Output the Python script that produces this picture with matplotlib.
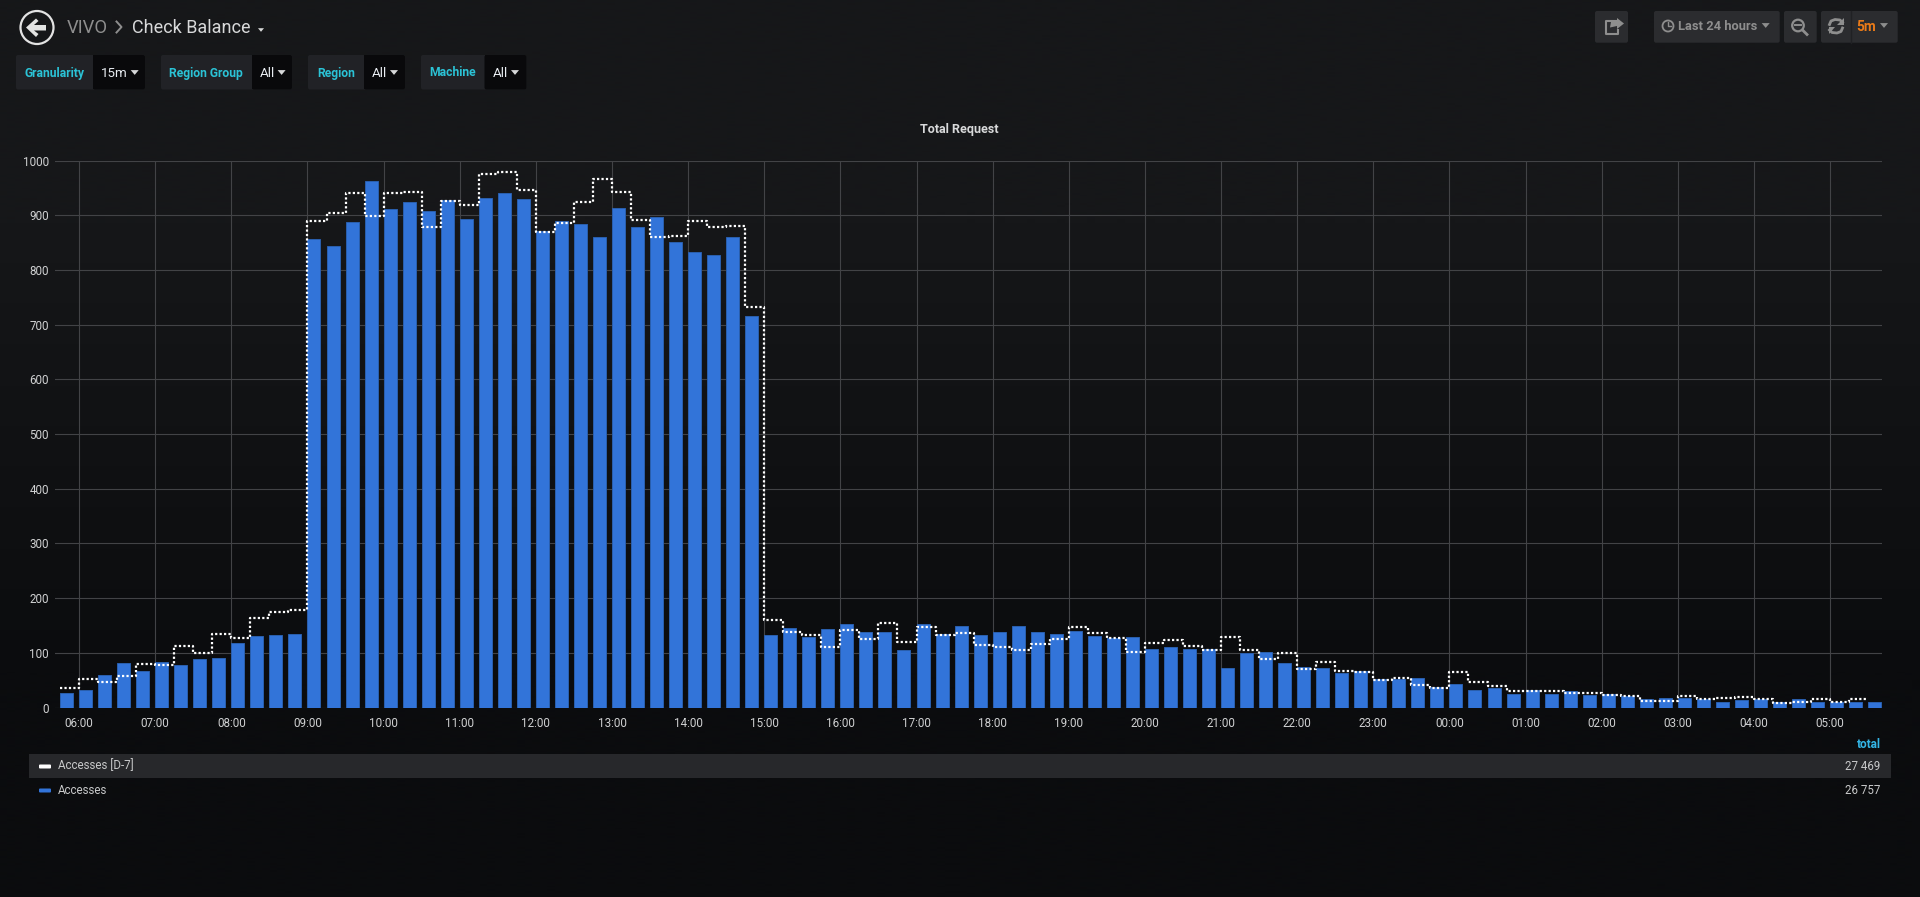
import numpy as np
import pandas as pd
import matplotlib
matplotlib.use('Agg')
import matplotlib.pyplot as plt
import matplotlib.dates as mdates
from matplotlib.patches import Rectangle, Circle, Polygon, FancyBboxPatch

plt.rcParams['font.family'] = ['Roboto', 'DejaVu Sans']

# 15 minute buckets, 05:45 -> 05:30 next day
times = pd.date_range('2019-01-01 05:45', periods=96, freq='15min')

accesses = [
    27, 33, 60, 82, 66, 84, 77, 88, 90, 119, 130, 132, 134,
    856, 843, 888, 963, 912, 925, 907, 928, 894, 932, 940, 929,
    872, 890, 885, 860, 914, 879, 896, 851, 833, 827, 860, 715,
    132, 146, 129, 143, 153, 139, 138, 105, 152, 135, 149, 132,
    139, 149, 138, 134, 140, 130, 127, 129, 108, 110, 108, 108,
    73, 100, 101, 82, 75, 72, 63,
    67, 52, 53, 55, 38, 44, 33, 35, 25, 32, 24, 30, 23, 24, 21,
    15, 17, 17, 15, 11, 13, 16, 10, 15, 10, 10, 11, 11,
]
accesses_d7 = [
    35, 52, 46, 57, 79, 78, 113, 100, 134, 128, 163, 175, 178,
    889, 905, 941, 899, 940, 943, 879, 926, 918, 976, 980, 947,
    869, 886, 925, 966, 942, 891, 861, 863, 890, 879, 880, 732,
    161, 138, 132, 111, 141, 125, 155, 120, 147, 132, 136, 114,
    111, 106, 116, 125, 148, 136, 127, 102, 119, 123, 112, 106,
    129, 105, 88, 100, 71, 84, 66,
    65, 51, 54, 41, 35, 65, 46, 40, 30, 30, 30, 26, 26, 23, 22,
    12, 12, 22, 15, 17, 20, 15, 8, 11, 15, 11, 15,
]
y_ticks = list(range(0, 1001, 100))
legend_names = ['Accesses [D-7]', 'Accesses']
legend_totals = ['27 469', '26 757']
filters = [('Granularity', '15m'), ('Region Group', 'All'), ('Region', 'All'), ('Machine', 'All')]

W, H = 1920, 897
fig = plt.figure(figsize=(W / 100, H / 100), dpi=100)

# page background gradient
bg = fig.add_axes([0, 0, 1, 1], zorder=0)
bg.imshow(np.array([[22, 23, 25], [11, 12, 14]])[:, None, :] / 255.0, aspect='auto',
          interpolation='bilinear', extent=[0, 1, 0, 1])
bg.axis('off')

# main chart
plot_l, plot_r, plot_t, plot_b = 55, 1882, 160.6, 707.6
ax = fig.add_axes([plot_l / W, 1 - plot_b / H, (plot_r - plot_l) / W, (plot_b - plot_t) / H], zorder=1)
ax.patch.set_alpha(0)

hour_px = 76.13
t0 = mdates.date2num(pd.Timestamp('2019-01-01 06:00'))
px_per_day = hour_px * 24
x_origin = 79.1
ax.set_xlim(t0 + (plot_l - x_origin) / px_per_day, t0 + (plot_r - x_origin) / px_per_day)
ax.set_ylim(0, 1000)

x = mdates.date2num(times)
bar_w = 13 / px_per_day
ax.bar(x, accesses, width=bar_w, align='edge', color='#3274d9', edgecolor='#2a5fae',
       linewidth=0.7, zorder=2)
ax.step(x[:96], accesses_d7 + accesses_d7[-1:], where='post', color='white', lw=1.6,
        linestyle=(0, (1, 1)), zorder=3)

ax.xaxis.set_major_locator(mdates.HourLocator())
ax.xaxis.set_major_formatter(mdates.DateFormatter('%H:%M'))
ax.set_yticks(y_ticks)
ax.grid(True, color='#424346', lw=0.8, zorder=1)
ax.set_axisbelow(True)
for s in ax.spines.values():
    s.set_visible(False)
ax.tick_params(axis='both', length=0, labelcolor='#d0d1d2', labelsize=8.4)
ax.tick_params(axis='x', pad=6.5)
ax.tick_params(axis='y', pad=4.5)

# everything else is drawn in pixel coords
ov = fig.add_axes([0, 0, 1, 1], zorder=2)
ov.set_xlim(0, W)
ov.set_ylim(H, 0)
ov.axis('off')


def box(x0, y0, x1, y1, color, rounded=True):
    if rounded:
        ov.add_patch(FancyBboxPatch((x0 + 2, y0 + 2), x1 - x0 - 4, y1 - y0 - 4, boxstyle='round,pad=2',
                                    fc=color, ec='none'))
    else:
        ov.add_patch(Rectangle((x0, y0), x1 - x0, y1 - y0, fc=color, ec='none'))


def caret(cx, cy, color, size=4):
    ov.add_patch(Polygon([[cx - size, cy - size * 0.6], [cx + size, cy - size * 0.6], [cx, cy + size * 0.6]],
                         fc=color, ec='none'))


# title
ov.text(959.5, 130, 'Total Request', color='#d8d9da', fontsize=9, fontweight='bold', ha='center', va='center')

# header left
ov.add_patch(Circle((37, 27.5), 16.5, fc='none', ec='#e3e3e3', lw=1.6))
ov.add_patch(Polygon([[26, 27.5], [36, 18.5], [38.5, 21], [34, 25], [46, 25], [46, 30.5], [34, 30.5],
                      [38.5, 34], [36, 37]], fc='#e3e3e3', ec='none'))
ov.text(67, 28, 'VIVO', color='#8e8e8e', fontsize=13.2, va='center')
ov.plot([116.5, 121.5, 116.5], [21.5, 27, 32.5], color='#8e8e8e', lw=1.4)
ov.text(132, 28, 'Check Balance', color='#d8d9da', fontsize=13, va='center')
caret(261, 30, '#d8d9da', 3)

# template variable row
filter_px = [(16, 93, 145, 54.5, 101, 134.7), (161, 252, 292, 206, 259.6, 281.6),
             (308, 364, 405, 336, 372, 394), (421, 484.5, 526.5, 452.4, 493, 515)]
for (name, val), (x0, x1, x2, tx, vx, cx) in zip(filters, filter_px):
    box(x0, 55, x2, 89.5, '#212226')
    box(x1, 55, x2, 89.5, '#09090b')
    ov.add_patch(Rectangle((x1, 55), 4, 34.5, fc='#09090b', ec='none'))
    ov.text(tx, 73, name, color='#2bc3d6', fontsize=8.7, fontweight='bold', ha='center', va='center')
    ov.text(vx, 73.8, val, color='#e9edf2', fontsize=9.6, va='center')
    caret(cx, 72.5, '#d8d9da', 4)

# header right buttons
btn = '#2b2c2f'
grey = '#8e8e8e'
box(1595, 11, 1628, 42.7, btn)
box(1654, 11, 1779.7, 42.7, btn)
box(1784, 11, 1816.7, 42.7, btn)
box(1821, 11, 1897.7, 42.7, btn)
ov.plot([1851, 1851], [11, 42.7], color='#202124', lw=1)

# share icon
ov.plot([1617, 1606, 1606, 1618, 1618], [21, 21, 34.5, 34.5, 30], color=grey, lw=1.5)
ov.add_patch(Polygon([[1617, 18], [1624, 23.5], [1617, 29], [1617, 26], [1610, 27.5], [1611, 22], [1617, 21]],
                     fc=grey, ec='none'))

# time picker
ov.add_patch(Circle((1668, 26), 5.5, fc='none', ec=grey, lw=1.3))
ov.plot([1668, 1668, 1671], [22.5, 26.5, 26.5], color=grey, lw=1)
ov.text(1677.5, 27, 'Last 24 hours', color=grey, fontsize=9.3, fontweight='bold', va='center')
caret(1765.7, 25.5, grey, 4)

# zoom out icon
ov.add_patch(Circle((1798, 25.5), 5.8, fc='none', ec=grey, lw=1.6))
ov.plot([1795, 1801], [25.5, 25.5], color=grey, lw=1.4)
ov.plot([1802.5, 1807], [30, 34.5], color=grey, lw=2)

# refresh icon
ov.plot([1829.5, 1831, 1835, 1840, 1842.5], [24.5, 21, 19.5, 20, 22.5], color=grey, lw=2)
ov.plot([1842.5, 1841, 1837, 1832, 1829.5], [28, 31.5, 33, 32.5, 30], color=grey, lw=2)
ov.add_patch(Polygon([[1843.5, 18], [1843.5, 25], [1837, 25]], fc=grey, ec='none'))
ov.add_patch(Polygon([[1828.5, 34.5], [1828.5, 27.5], [1835, 27.5]], fc=grey, ec='none'))

ov.text(1856.5, 27, '5m', color='#eb7b18', fontsize=9.8, fontweight='bold', va='center')
caret(1884, 25.5, grey, 4)

# legend table
ov.text(1880.6, 744, 'total', color='#33b5e5', fontsize=8.6, fontweight='bold', ha='right', va='center')
box(29, 754, 1891, 778, '#27282b', rounded=False)
legend_y = [766, 790]
for name, total, y, color in zip(legend_names, legend_totals, legend_y, ['white', '#3274d9']):
    ov.add_patch(FancyBboxPatch((40, y - 0.5), 10, 2, boxstyle='round,pad=1', fc=color, ec='none'))
    ov.text(58, y, name, color='#c8c9ca', fontsize=8.3, va='center')
    ov.text(1880.6, y, total, color='#c8c9ca', fontsize=8.3, ha='right', va='center')

fig.savefig('out.png', dpi=100)
